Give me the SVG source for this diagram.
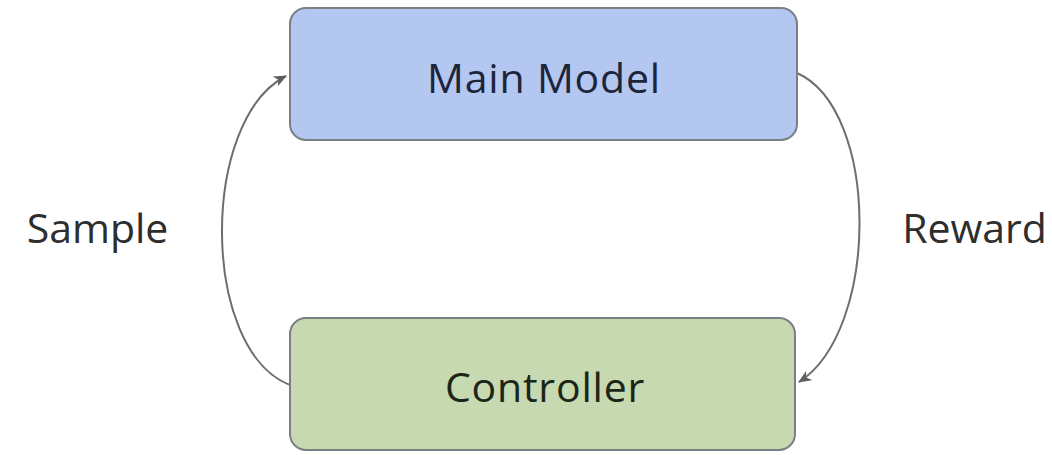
<svg xmlns="http://www.w3.org/2000/svg" width="1052" height="455" viewBox="0 0 1052 455">
  <style>
    .box { stroke: #7a7f86; stroke-width: 2; }
    .lbl { font-family: "Open Sans", "Noto Sans", "Liberation Sans", sans-serif; font-size: 41px; text-anchor: middle; }
    .inbox { letter-spacing: 0.8px; }
    .edge { fill: none; stroke: #6e6e6e; stroke-width: 2; }
  </style>
  <defs>
    <marker id="arrow" viewBox="0 0 13 11" refX="12" refY="5.5" markerWidth="13" markerHeight="11" markerUnits="userSpaceOnUse" orient="auto">
      <path d="M0,0 L13,5.5 L0,11 L3.5,5.5 Z" fill="#5e5e5e"/>
    </marker>
  </defs>
  <rect width="1052" height="455" fill="#ffffff"/>

  <g id="connectors">
    <path class="edge" d="M290,385 C200,350 200,120 286,76" marker-end="url(#arrow)"/>
    <path class="edge" d="M797,73 C880,110 880,330 799,382" marker-end="url(#arrow)"/>
  </g>

  <g id="main-model">
    <rect class="box" x="290" y="8" width="507" height="132" rx="16" fill="#b4c7f0"/>
    <text class="lbl inbox" x="544" y="93" fill="#1c253a">Main Model</text>
  </g>

  <g id="controller">
    <rect class="box" x="290" y="318" width="505" height="132" rx="16" fill="#c6d9b1"/>
    <text class="lbl inbox" x="545" y="402" fill="#1c2618">Controller</text>
  </g>

  <g id="sample-label">
    <text class="lbl" x="97.5" y="243" fill="#2e2e2e">Sample</text>
  </g>

  <g id="reward-label">
    <text class="lbl" x="974.5" y="243" fill="#2e2e2e">Reward</text>
  </g>
</svg>
